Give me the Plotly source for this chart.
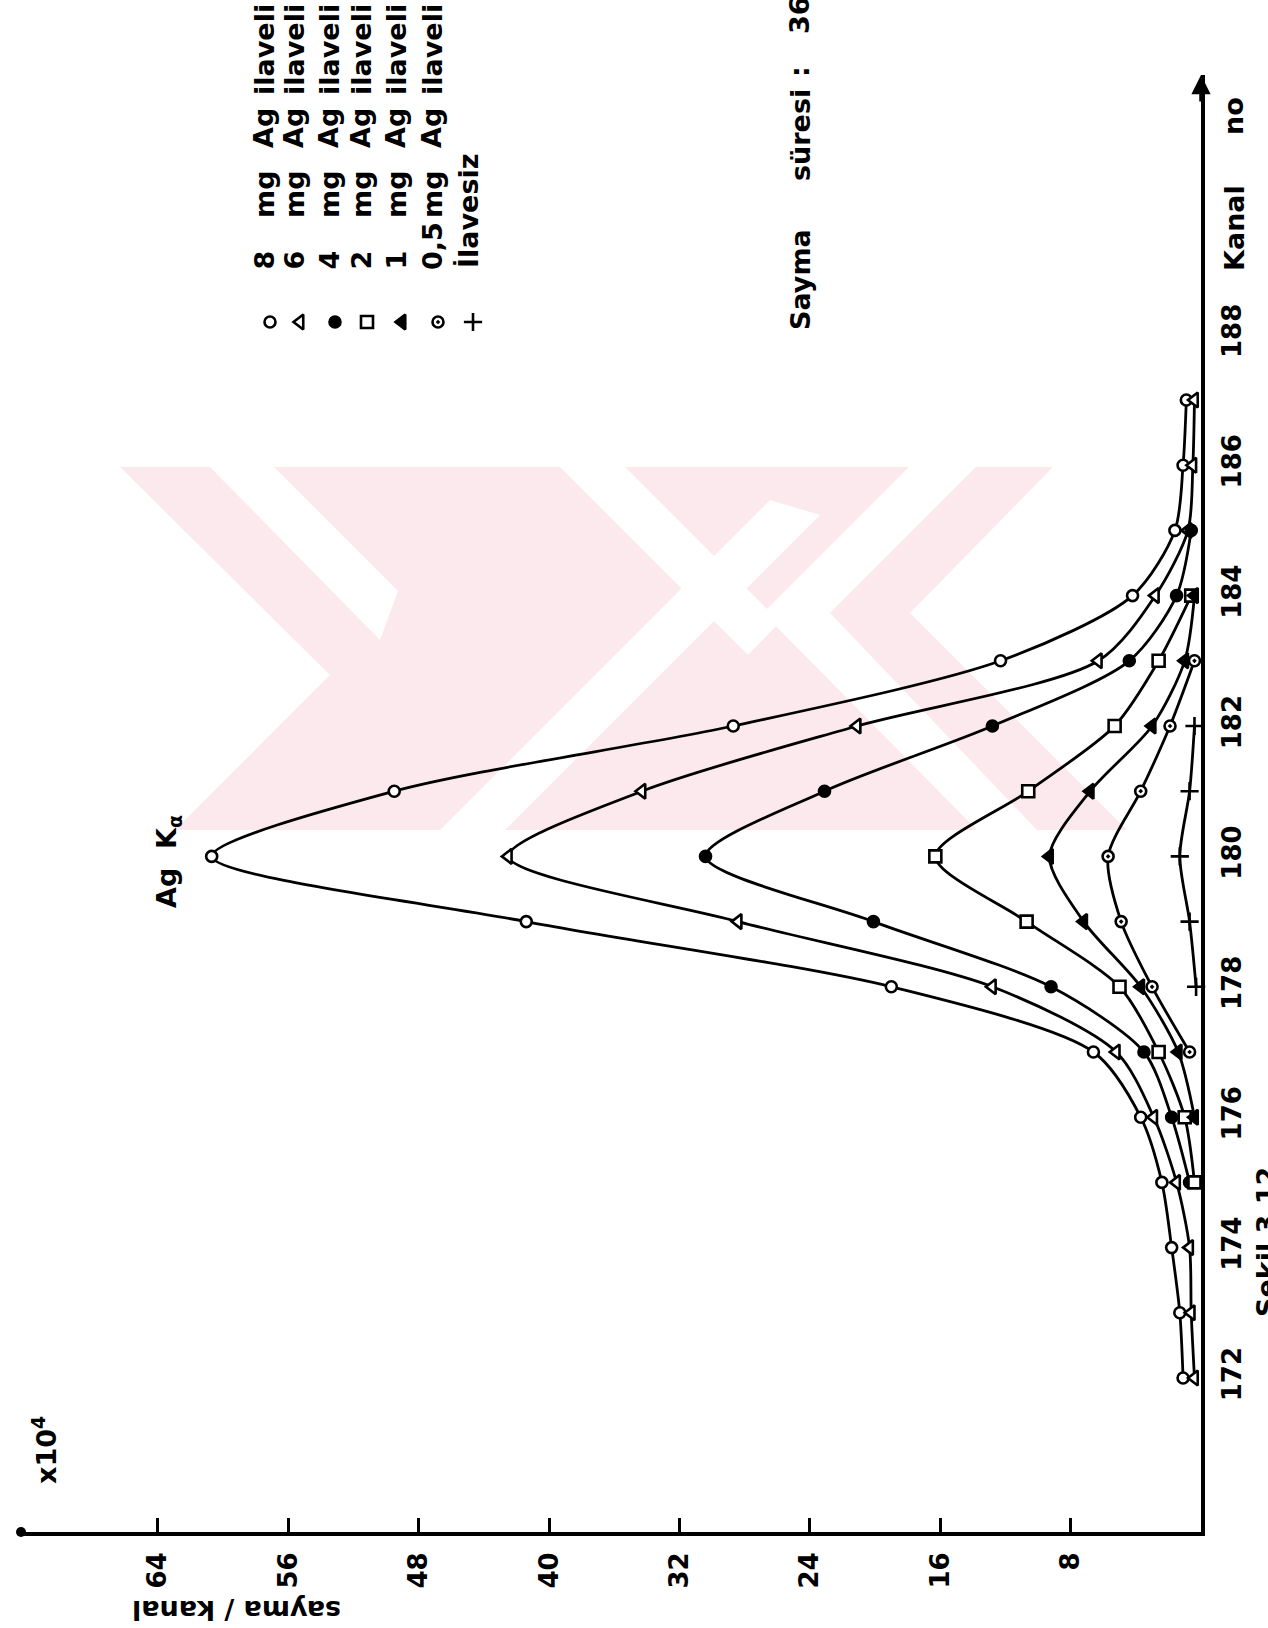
import plotly.graph_objects as go

FONT = "DejaVu Sans"

# Kanal numaraları ve kanal başına sayma (x10^4)
ch_8mg = list(range(172, 188))
cnt_8mg = [1.1, 1.3, 1.8, 2.4, 3.7, 6.6, 19.0, 41.4, 60.7, 49.5, 28.7, 12.3, 4.2, 1.6, 1.1, 0.9]

ch_6mg = list(range(172, 188))
cnt_6mg = [0.4, 0.6, 0.7, 1.5, 2.9, 5.2, 12.8, 28.4, 42.5, 34.3, 21.1, 6.3, 2.8, 0.8, 0.5, 0.4]

ch_4mg = list(range(175, 186))
cnt_4mg = [0.7, 1.8, 3.5, 9.2, 20.1, 30.4, 23.1, 12.8, 4.4, 1.5, 0.6]

ch_2mg = list(range(175, 185))
cnt_2mg = [0.4, 1.0, 2.6, 5.0, 10.7, 16.3, 10.6, 5.3, 2.6, 0.6]

ch_1mg = list(range(176, 185))
cnt_1mg = [0.4, 1.4, 3.7, 7.2, 9.3, 6.8, 3.0, 1.0, 0.4]

ch_05mg = list(range(177, 184))
cnt_05mg = [0.7, 3.0, 4.9, 5.7, 3.7, 1.9, 0.4]

ch_blank = list(range(178, 183))
cnt_blank = [0.3, 0.7, 1.3, 0.7, 0.4]

count_ticks = [8, 16, 24, 32, 40, 48, 56, 64]
channel_ticks = [172, 174, 176, 178, 180, 182, 184, 186, 188]

legend_amounts = ["8", "6", "4", "2", "1", "0,5"]

# page geometry (pixels)
W, H = 1268, 1628
PL, PR, PT, PB = 21, 1201, 75, 1532
CNT_MAX = 72.4
CH_LO = 172 - (PB - 1378) / 65.2
CH_HI = 172 + (1378 - PT) / 65.2


def cx(px):
    """page x pixel -> count value"""
    return CNT_MAX * (PR - px) / (PR - PL)


def cy(py):
    """page y pixel -> channel value"""
    return CH_LO + (CH_HI - CH_LO) * (PB - py) / (PB - PT)


def paper_x(px):
    return (px - PL) / (PR - PL)


def paper_y(py):
    return (PB - py) / (PB - PT)


series = [
    (ch_8mg, cnt_8mg, dict(symbol="circle", color="white", size=11)),
    (ch_6mg, cnt_6mg, dict(symbol="triangle-left", color="white", size=13)),
    (ch_4mg, cnt_4mg, dict(symbol="circle", color="black", size=11)),
    (ch_2mg, cnt_2mg, dict(symbol="square", color="white", size=12)),
    (ch_1mg, cnt_1mg, dict(symbol="triangle-left", color="black", size=13)),
    (ch_05mg, cnt_05mg, dict(symbol="circle-dot", color="white", size=11)),
    (ch_blank, cnt_blank, dict(symbol="cross-thin", color="black", size=13)),
]

fig = go.Figure()

# pale background emblem (pink chevrons)
PINK = "#fce9ed"


def poly(points, color):
    path = "M " + " L ".join(f"{paper_x(x):.5f},{paper_y(y):.5f}" for x, y in points) + " Z"
    fig.add_shape(type="path", path=path, xref="paper", yref="paper",
                  fillcolor=color, line=dict(width=0), layer="below")


poly([(120, 467), (1053, 467), (910, 613), (1127, 830), (175, 830), (330, 675)], PINK)
poly([(210, 467), (274, 467), (398, 591), (380, 640)], "white")
poly([(909, 467), (976, 467), (830, 613), (1037, 830), (977, 830), (763, 613)], "white")
poly([(440, 830), (505, 830), (820, 515), (770, 500)], "white")
poly([(560, 467), (625, 467), (780, 622), (748, 655)], "white")

for ch, cnt, mk in series:
    fig.add_trace(go.Scatter(
        x=cnt, y=ch, mode="lines+markers",
        line=dict(color="black", width=2.8, shape="spline", smoothing=0.8),
        marker=dict(symbol=mk["symbol"], color=mk["color"], size=mk["size"],
                    line=dict(color="black", width=2.6)),
        cliponaxis=False, showlegend=False, hoverinfo="skip",
    ))

# legend block (rotated)
leg_x = [270, 300, 335, 367, 402, 438, 473]
leg_y = 322
for i, (ch, cnt, mk) in enumerate(series):
    fig.add_trace(go.Scatter(
        x=[cx(leg_x[i])], y=[cy(leg_y)], mode="markers",
        marker=dict(symbol=mk["symbol"], color=mk["color"], size=mk["size"],
                    line=dict(color="black", width=2.6)),
        cliponaxis=False, showlegend=False, hoverinfo="skip",
    ))

annotations = []


def rot_text(text, px, py, size=27, yanchor="middle", angle=-90):
    annotations.append(dict(
        x=paper_x(px), y=paper_y(py), xref="paper", yref="paper", text=text,
        showarrow=False, textangle=angle,
        font=dict(family=FONT, size=size, color="black", weight="bold"),
        xanchor="center", yanchor=yanchor,
    ))


for i, amt in enumerate(legend_amounts):
    tx = leg_x[i] - 6
    rot_text(amt, tx, 272, yanchor="bottom")
    rot_text("mg", tx, 195)
    rot_text("Ag", tx, 128)
    rot_text("ilaveli", tx, 50)
rot_text("İlavesiz", leg_x[6] - 4, 270, yanchor="bottom")

# counting time note
rot_text("Sayma", 800, 280)
rot_text("süresi", 800, 135)
rot_text(":", 800, 72)
rot_text("36", 800, 36, yanchor="bottom")

# peak label
rot_text("Ag  K<sub>α</sub>", 168, 862)

# axis titles
rot_text("Kanal", 1234, 228)
rot_text("no", 1234, 116)
rot_text("x10<sup>4</sup>", 44, 1450, size=27)
rot_text("sayma / kanal", 236, 1611, size=27, angle=180)

# figure caption running off the page edge
rot_text("Şekil 3.12", 1266, 1319, size=27, yanchor="bottom")

# arrow head on channel axis
annotations.append(dict(
    x=0, y=CH_HI, xref="x", yref="y", ax=0, ay=28, axref="pixel", ayref="pixel",
    showarrow=True, arrowhead=2, arrowsize=1.1, arrowwidth=3.5, arrowcolor="black", text="",
))

# dot at the end of the count axis
fig.add_trace(go.Scatter(
    x=[CNT_MAX], y=[CH_LO], mode="markers",
    marker=dict(symbol="circle", color="black", size=10),
    cliponaxis=False, showlegend=False, hoverinfo="skip",
))

fig.update_layout(
    width=W, height=H,
    margin=dict(l=PL, r=W - PR, t=PT, b=H - PB, pad=0),
    paper_bgcolor="white", plot_bgcolor="white",
    annotations=annotations,
    xaxis=dict(
        range=[CNT_MAX, 0], showline=True, linewidth=4, linecolor="black",
        ticks="inside", ticklen=14, tickwidth=3, tickcolor="black",
        tickvals=count_ticks, ticktext=[str(v) for v in count_ticks],
        tickangle=-90, tickfont=dict(family=FONT, size=26, color="black", weight="bold"),
        showgrid=False, zeroline=False, ticklabelstandoff=6,
    ),
    yaxis=dict(
        range=[CH_LO, CH_HI], side="right", showline=True, linewidth=4, linecolor="black",
        ticks="", tickvals=channel_ticks, ticktext=[str(v) for v in channel_ticks],
        tickangle=-90, tickfont=dict(family=FONT, size=26, color="black", weight="bold"),
        showgrid=False, zeroline=False, ticklabelstandoff=5,
    ),
)

fig.write_html("out.html")
